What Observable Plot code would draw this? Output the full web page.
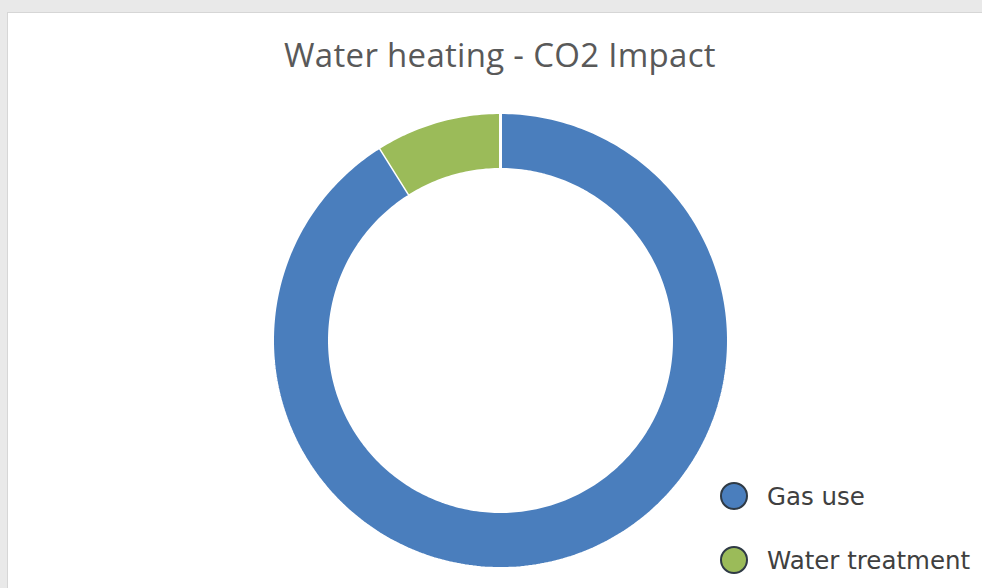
<!DOCTYPE html>
<html>
<head>
<meta charset="utf-8">
<script src="https://cdn.jsdelivr.net/npm/d3@7"></script>
<script src="https://cdn.jsdelivr.net/npm/@observablehq/plot@0.6"></script>
<style>
  html, body { margin: 0; padding: 0; }
  body { width: 982px; height: 588px; overflow: hidden; background: #e9e9e9; }
  #wrap { position: relative; width: 982px; height: 588px; }
  #panel { position: absolute; left: 7px; top: 12px; width: 990px; height: 590px;
           background: #ffffff; border-top: 1px solid #d6d6d6; border-left: 1px solid #d6d6d6; }
  #title { position: absolute; left: 0; width: 1000px; top: 32px; text-align: center;
           font-family: "Open Sans", Lato, sans-serif; font-size: 33px; letter-spacing: 0.3px; color: #595959; }
  #chart { position: absolute; left: 0; top: 0; }
  #legend { position: absolute; left: 720px; top: 480px; font-family: "DejaVu Sans", Verdana, sans-serif;
            font-size: 24.5px; color: #404040; }
  .item { display: flex; align-items: center; height: 32px; margin-bottom: 32px; }
  .sw { width: 28px; height: 28px; border-radius: 50%; border: 2px solid #2f3a45; margin-right: 19px; box-sizing: border-box; }
</style>
</head>
<body>
<div id="wrap">
  <div id="panel"></div>
  <div id="title"></div>
  <div id="chart"></div>
  <div id="legend"></div>
</div>
<script>
const chartTitle = "Water heating - CO2 Impact";
const categories = ["Gas use", "Water treatment"];
const values = [91.1, 8.9];
const colors = ["#4A7EBD", "#9BBB59"];

const holeRatio = 0.75;   // inner radius as a fraction of the outer radius

// Build slice outlines from cumulative shares (clockwise from 12 o'clock)
const pie = d3.pie().sort(null).value(d => d)(values);
const ringPoints = [];
pie.forEach((p, i) => {
  const n = Math.max(8, Math.ceil((p.endAngle - p.startAngle) / (Math.PI / 180)));
  const outer = d3.range(n + 1).map(k => p.startAngle + (p.endAngle - p.startAngle) * k / n);
  const inner = outer.slice().reverse();
  outer.forEach(a => ringPoints.push({cat: categories[i], x: Math.sin(a), y: Math.cos(a)}));
  inner.forEach(a => ringPoints.push({cat: categories[i], x: holeRatio * Math.sin(a), y: holeRatio * Math.cos(a)}));
});

// Pixel geometry: ring centre and radius on a 982 x 588 canvas
const W = 982, H = 588, cx = 500, cy = 340, R = 228;

const plot = Plot.plot({
  width: W,
  height: H,
  margin: 0,
  style: {background: "transparent", overflow: "visible"},
  x: {domain: [-cx / R, (W - cx) / R], axis: null},
  y: {domain: [-(H - cy) / R, cy / R], axis: null},
  color: {domain: categories, range: colors},
  marks: [
    Plot.line(ringPoints, {
      x: "x", y: "y", z: "cat",
      fill: "cat", stroke: "#ffffff", strokeWidth: 3, strokeLinejoin: "miter"
    })
  ]
});
document.getElementById("chart").appendChild(plot);
document.getElementById("title").textContent = chartTitle;

const legend = document.getElementById("legend");
categories.forEach((c, i) => {
  const item = document.createElement("div");
  item.className = "item";
  const sw = document.createElement("div");
  sw.className = "sw";
  sw.style.background = colors[i];
  const label = document.createElement("span");
  label.textContent = c;
  item.appendChild(sw);
  item.appendChild(label);
  legend.appendChild(item);
});
</script>
</body>
</html>
